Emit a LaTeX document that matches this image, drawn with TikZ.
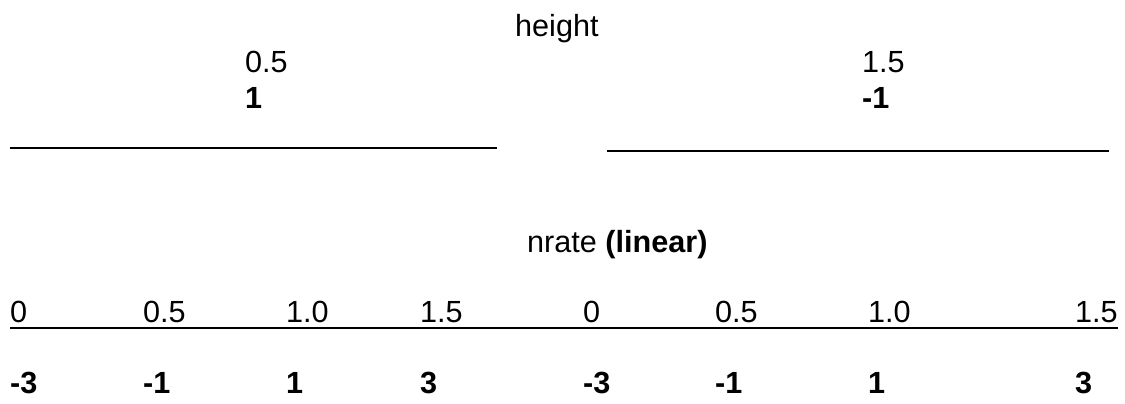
\documentclass[tikz,border=0pt]{standalone}
\usepackage{fontspec}
\setmainfont{Liberation Sans}
\begin{document}
\begin{tikzpicture}[x=1pt,y=-1pt,
  lbl/.style={anchor=base west,inner sep=0pt,font=\fontsize{30.6}{36}\selectfont},
  blbl/.style={lbl,font=\fontsize{30.6}{36}\selectfont\bfseries},
  rule/.style={line width=1.7pt}]
\useasboundingbox[fill=white] (0,0) rectangle (1125,404);
% top part
\node[lbl] (height) at (515,37) {height};
\node[lbl] (ha) at (245,73) {0.5};
\node[blbl] (hb) at (245,109) {1};
\node[lbl] (hc) at (862,73) {1.5};
\node[blbl] (hd) at (862,109) {-1};
\coordinate (l1a) at (10,148);
\coordinate (l1b) at (497,148);
\coordinate (l2a) at (607,151);
\coordinate (l2b) at (1109,151);
\draw[rule] (l1a) -- (l1b);
\draw[rule] (l2a) -- (l2b);
% bottom part
\node[lbl] (nrate) at (527,252) {nrate \textbf{(linear)}};
\foreach \x/\t/\b [count=\i] in {10/0/-3,143/0.5/-1,286/1.0/1,420/1.5/3,583/0/-3,715/0.5/-1,868/1.0/1,1075/1.5/3}{
  \node[lbl] (t\i) at (\x,322) {\t};
  \node[blbl] (b\i) at (\x,393) {\b};
}
\coordinate (l3a) at (10,328);
\coordinate (l3b) at (1118,328);
\draw[rule] (l3a) -- (l3b);
\end{tikzpicture}
\end{document}
